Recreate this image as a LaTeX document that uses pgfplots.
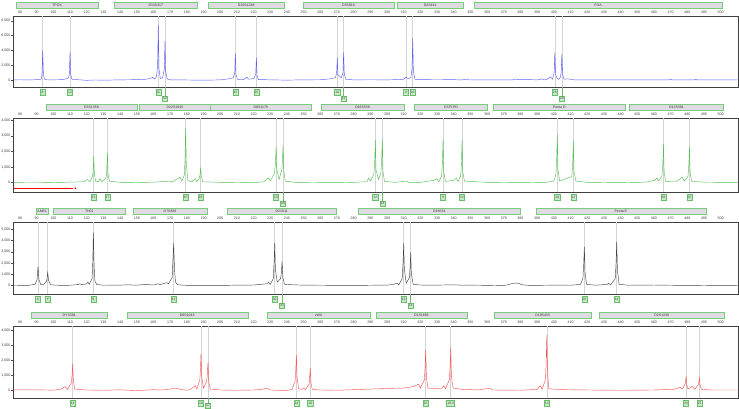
\documentclass[border=0pt]{standalone}
\usepackage{fontspec}
\setmainfont{Liberation Sans}
\usepackage{pgfplots}
\pgfplotsset{compat=1.18}
\usetikzlibrary{calc}
\definecolor{tblue}{RGB}{95,95,245}
\definecolor{tgreen}{RGB}{85,190,85}
\definecolor{tgray}{RGB}{70,70,70}
\definecolor{tred}{RGB}{250,85,85}
\definecolor{locgreen}{RGB}{120,205,120}
\definecolor{locfill}{RGB}{222,219,228}
\definecolor{agreen}{RGB}{105,190,105}
\definecolor{afill}{RGB}{200,232,200}
\definecolor{glinec}{RGB}{212,212,212}
\newcommand\tf{\fontsize{3.6}{4}\selectfont}
\newcommand\lf{\fontsize{3.5}{4}\selectfont}
\newcommand\af{\fontsize{3.4}{4}\selectfont}
\tikzset{
  gline/.style={draw=glinec,line width=0.5pt},
  abox/.style={draw=agreen,fill=afill,line width=0.5pt,inner sep=0.7pt,minimum height=5.5pt,minimum width=5pt,font=\af,text=black!70},
  lbox/.style={draw=locgreen,fill=locfill,line width=0.4pt},
}
\newcommand\locus[3]{%
  \draw[lbox] ([yshift=7.8pt]axis cs:#1,\ytop) rectangle ([yshift=14pt]axis cs:#2,\ytop);
  \node[font=\lf,text=black!80,inner sep=0pt] at ($([yshift=10.9pt]axis cs:#1,\ytop)!0.5!([yshift=10.9pt]axis cs:#2,\ytop)$) {#3};}
\newcommand\al[2]{%
  \draw[gline] (axis cs:#1,\ytop) -- (axis cs:#1,\ybot);
  \node[abox] at ([yshift=-5pt]axis cs:#1,\ybot) {#2};}
\newcommand\alb[2]{%
  \draw[gline] (axis cs:#1,\ytop) -- (axis cs:#1,\ybot);
  \draw[draw=agreen,line width=0.5pt] (axis cs:#1,\ybot) -- ([yshift=-9pt]axis cs:#1,\ybot);
  \node[abox] at ([yshift=-11.5pt]axis cs:#1,\ybot) {#2};}
\newcommand\alc[2]{%
  \draw[gline] (axis cs:#1,\ytop) -- (axis cs:#1,\ybot);
  \draw[draw=agreen,line width=0.5pt] (axis cs:#1,\ybot) -- ([yshift=-5pt]axis cs:#1,\ybot);
  \node[abox,minimum height=4.8pt,inner sep=0.4pt] at ([yshift=-7.4pt]axis cs:#1,\ybot) {#2};}
\pgfplotsset{panel/.style={
  scale only axis, width=725pt, anchor=south west,
  xmin=75.8, xmax=510.4, clip=false,
  xtick={80,90,...,500}, xticklabel pos=upper, ytick pos=left,
  xtick style={draw=none}, ytick style={draw=gray!60!black,line width=0.4pt},
  tick align=outside, major tick length=1.5pt,
  axis line style={draw=gray!50!black,line width=0.6pt},
  ticklabel style={font=\tf,text=black!75,inner sep=0.8pt},
  scaled y ticks=false,
  /pgf/number format/1000 sep={,},
  /pgf/number format/assume math mode=true,
}}
\begin{document}
\begin{tikzpicture}
\useasboundingbox (0,0) rectangle (739pt,408pt);
% ---------------- Panel 1 (blue)
\def\ytop{8650}\def\ybot{-950}
\begin{axis}[panel, at={(13pt,321pt)}, height=71pt, ymin=-950, ymax=8650, ytick={0,2000,4000,6000,8000}]
\locus{77.6}{126.9}{TPOX}
\locus{136.5}{186.3}{D13S317}
\locus{192.7}{238.5}{D10S1248}
\locus{249.5}{304.4}{D5S818}
\locus{306}{345.8}{D2S441}
\locus{352}{501}{FGA}
\al{93.6}{8}\al{110}{12}\al{162.9}{11}\alb{166.9}{12}\al{209.1}{12}\al{221.7}{15}
\al{270.2}{10}\alb{274}{11}\al{311.4}{9}\al{315.4}{10}\al{400.6}{25}\alb{404.8}{26}
\addplot[tblue,line width=0.45pt] coordinates {(76,20)(80,30)(85,10)(90,40)(92,80)(92.8,150)(93.2,900)(93.6,4000)(94.0,900)(94.6,120)(96,30)(100,20)(105,40)(107,120)(108.5,200)(109.2,350)(109.6,900)(110,3800)(110.4,800)(111.1,100)(115,30)(120,-50)(125,0)(130,-30)(140,20)(150,40)(155,80)(158,200)(159.5,350)(160.5,150)(161.8,400)(162.5,2000)(162.9,7420)(163.3,1500)(164.1,200)(165.5,300)(166.5,1500)(166.9,5260)(167.3,1200)(168.2,150)(170,20)(180,0)(190,-30)(200,10)(205,150)(207.8,300)(208.7,900)(209.1,3600)(209.5,700)(210.4,80)(214,50)(216,400)(217,100)(220.3,200)(221.3,800)(221.7,3010)(222.1,600)(222.9,60)(230,20)(240,-20)(250,20)(260,30)(266,150)(269,300)(269.8,900)(270.2,3010)(270.6,700)(272.6,300)(273.6,1000)(274,3740)(274.4,800)(275.3,80)(280,20)(290,30)(300,20)(305,40)(310,100)(311.4,400)(312.5,200)(314.3,300)(315,1500)(315.4,5620)(315.8,1200)(316.7,100)(320,40)(330,30)(340,40)(345,10)(348,120)(349,0)(360,10)(375,0)(377,150)(378,40)(385,60)(390,0)(393,150)(394,0)(396,100)(398,400)(399.2,100)(400.2,1000)(400.6,3740)(401,800)(401.9,200)(402.8,100)(403.8,300)(404.4,1000)(404.8,3510)(405.2,800)(406.1,100)(408,150)(410,100)(412,20)(420,10)(440,0)(469,0)(470,120)(471,0)(484,0)(485,100)(486,0)(500,0)(510,0)};
\end{axis}
% ---------------- Panel 2 (green)
\def\ytop{4150}\def\ybot{-600}
\begin{axis}[panel, at={(13pt,216pt)}, height=74pt, ymin=-600, ymax=4150, ytick={0,1000,2000,3000,4000}]
\locus{95.6}{150}{D3S1358}
\locus{151.5}{194.3}{D22S1045}
\locus{194.3}{254.3}{D8S1179}
\locus{260.3}{310.4}{D16S539}
\locus{316.4}{360.2}{CSF1PO}
\locus{363.8}{442.7}{Penta D}
\locus{445.3}{501.7}{D12S391}
\al{124.2}{15}\al{132.4}{17}\al{179.3}{15}\al{188.3}{18}\al{233.5}{15}\alb{237.7}{16}
\al{293}{12}\alb{297.2}{13}\al{333.6}{9}\al{345}{12}\al{402.1}{10}\al{411.7}{12}\al{465.7}{18}\al{481.3}{22}
\addplot[red,line width=1pt] coordinates {(76.4,-360)(111.5,-360)};
\addplot[red,only marks,mark=*,mark size=0.7pt] coordinates {(113.2,-360)};
\addplot[tgreen,line width=0.45pt] coordinates {(76,20)(90,30)(100,10)(110,30)(118,60)(120.5,200)(122,60)(123.4,400)(123.8,700)(124.2,1680)(124.6,500)(125.4,80)(127.2,60)(128,250)(129,60)(131.6,300)(132,800)(132.4,1900)(132.8,500)(133.6,100)(140,20)(150,10)(160,30)(170,100)(171,30)(176,350)(177,100)(178.5,500)(178.9,1500)(179.3,3510)(179.7,1200)(180.6,150)(183,50)(185,250)(186,60)(187.5,300)(187.9,500)(188.3,970)(188.7,400)(189.5,60)(200,20)(210,10)(220,0)(226,50)(229,300)(230,100)(232.5,600)(233.1,1200)(233.5,2280)(233.9,900)(235.3,200)(236.9,800)(237.3,1400)(237.7,2390)(238.1,800)(239,100)(245,20)(255,10)(270,0)(280,20)(288,60)(289,300)(290,100)(292.1,500)(292.6,1300)(293,2750)(293.4,800)(295,200)(296.3,600)(296.8,1500)(297.2,2800)(297.6,700)(298.5,80)(305,20)(312,100)(313,20)(320,20)(328,150)(330,250)(331,60)(332.7,400)(333.2,1300)(333.6,2800)(334,700)(335,80)(340,150)(341.5,300)(342.5,80)(344.1,400)(344.6,1200)(345,2750)(345.4,700)(346.4,100)(360,20)(380,0)(395,20)(400,100)(401.2,500)(401.7,1500)(402.1,3080)(402.5,800)(403.5,100)(410.8,400)(411.3,1200)(411.7,2690)(412.1,700)(413.2,100)(420,20)(440,0)(455,30)(460.5,150)(461.7,300)(462.8,100)(464.8,400)(465.3,1100)(465.7,2480)(466.1,700)(467,80)(474,100)(477,350)(478.2,100)(480.4,400)(480.9,1100)(481.3,2320)(481.7,600)(482.7,80)(490,30)(500,20)(510,20)};
\end{axis}
% ---------------- Panel 3 (black)
\def\ytop{5650}\def\ybot{-760}
\begin{axis}[panel, at={(13pt,114pt)}, height=72pt, ymin=-760, ymax=5650, ytick={0,1000,2000,3000,4000,5000}]
\locus{89.6}{97}{AMEL}
\locus{100}{143.1}{TH01}
\locus{147.6}{192.3}{D7S820}
\locus{204.5}{269.3}{D21S11}
\locus{282.8}{380}{D18S51}
\locus{389.2}{491.1}{Penta E}
\al{90.8}{X}\al{96.6}{Y}\al{124}{9}\al{172.1}{11}\al{232.7}{30}\alb{237.1}{31}
\al{310}{13}\alb{314.2}{14}\al{418.3}{10}\al{437.7}{14}
\addplot[tgray,line width=0.45pt] coordinates {(76,20)(85,10)(89,100)(90.2,500)(90.8,1680)(91.4,500)(92.5,80)(94,60)(96,400)(96.6,1150)(97.2,400)(98.3,60)(105,0)(110,20)(115,80)(116,150)(117,60)(120,150)(120.7,300)(121.5,100)(123.2,600)(123.6,2000)(124,4710)(124.4,1800)(124.9,400)(126,80)(130,20)(140,30)(145,60)(150,20)(155,100)(160,40)(163,150)(164,80)(168,250)(169,150)(171.2,700)(171.6,2000)(172.1,3740)(172.6,1500)(173.2,300)(174.5,60)(180,10)(200,0)(210,30)(220,40)(228,150)(229,300)(230,100)(231.8,600)(232.3,2000)(232.7,3800)(233.1,1400)(234.2,300)(236.2,600)(236.7,1200)(237.1,2120)(237.6,700)(238.6,100)(245,50)(250,30)(260,20)(280,0)(290,20)(300,30)(304,100)(306,200)(307,60)(309.1,600)(309.6,2000)(310,3740)(310.4,1400)(311.5,200)(313.4,700)(313.8,1500)(314.2,2950)(314.6,1000)(315.7,100)(320,40)(330,30)(340,60)(345,20)(350,30)(360,10)(365,20)(370,0)(373,80)(375,180)(377,220)(379,180)(381,60)(385,10)(390,10)(400,30)(410,20)(416,100)(417.4,600)(417.9,1800)(418.3,3440)(418.7,1200)(419.6,100)(425,20)(432,100)(433,200)(434,50)(436.8,600)(437.3,2000)(437.7,3880)(438.1,1400)(439.1,100)(445,20)(460,40)(470,20)(480,0)(490,20)(500,0)(510,0)};
\end{axis}
% ---------------- Panel 4 (red)
\def\ytop{4267}\def\ybot{-513}
\begin{axis}[panel, at={(13pt,10pt)}, height=72pt, ymin=-513, ymax=4267, ytick={0,1000,2000,3000,4000}]
\locus{87}{132}{DYS391}
\locus{144}{216.5}{D6S1043}
\locus{227.9}{290}{vWA}
\locus{293.4}{347.8}{D1S1656}
\locus{364.2}{422.3}{D19S433}
\locus{427.1}{502.3}{D2S1338}
\al{111.6}{11}\al{188.5}{16}\alc{192.7}{17}\al{245.7}{14}\al{254}{16}\al{323.2}{15}
\al{338.2}{18.3}\al{395.8}{13}\al{479.3}{23}\al{487.3}{25}
\addplot[tred,line width=0.45pt] coordinates {(76,20)(90,30)(100,10)(105,80)(107,250)(108.5,60)(110.8,500)(111.2,1000)(111.6,1780)(112,600)(112.8,80)(120,20)(130,0)(140,30)(150,-20)(160,40)(165,20)(170,80)(173.5,150)(176,60)(180,0)(182,40)(185,300)(186,80)(187.8,700)(188.2,1500)(188.5,2440)(188.9,900)(190,150)(191.9,600)(192.3,1100)(192.7,1840)(193.1,600)(194,80)(200,20)(210,0)(220,20)(225,60)(228,150)(230,20)(235,0)(240,-20)(243,60)(244.9,600)(245.3,1300)(245.7,2330)(246.1,800)(247,100)(249,60)(250,150)(251,50)(253.3,400)(253.6,800)(254,1490)(254.4,500)(255.2,60)(260,20)(270,0)(280,40)(290,80)(300,120)(310,150)(316,250)(318.8,400)(320,150)(322.4,700)(322.8,1500)(323.2,2670)(323.6,900)(324.5,150)(330,100)(333,150)(334,300)(335,100)(337.4,700)(337.8,1500)(338.2,2840)(338.6,900)(339.6,150)(345,60)(355,20)(362,150)(363,20)(380,0)(390,60)(391.8,300)(393,80)(395,700)(395.4,1800)(395.8,3670)(396.2,1200)(397,100)(405,40)(420,20)(440,0)(460,20)(472,60)(475.6,200)(477,80)(478.7,400)(479,650)(479.3,930)(479.6,400)(480.4,80)(483,250)(484.5,60)(486.7,400)(487,600)(487.3,820)(487.6,400)(488.4,60)(495,20)(510,20)};
\end{axis}
\end{tikzpicture}
\end{document}
